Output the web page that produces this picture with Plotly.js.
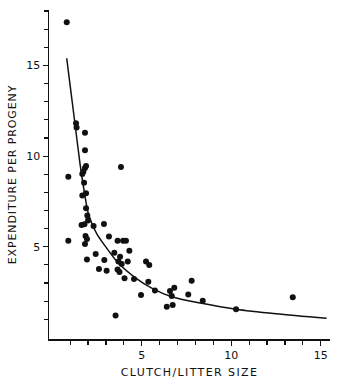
<!DOCTYPE html>
<html>
<head>
<meta charset="utf-8">
<script src="https://cdn.plot.ly/plotly-3.0.1.min.js"></script>
<style>
  html, body { margin: 0; padding: 0; background: #fff; }
  #chart { width: 339px; height: 385px; }
  #chart .xtitle { letter-spacing: 1.4px; }
  #chart .ytitle { letter-spacing: 0.9px; }
</style>
</head>
<body>
<div id="chart"></div>
<script>
// Observed species: clutch/litter size vs. expenditure per progeny
const clutchSize = [
  0.81, 0.90, 0.90, 1.33, 1.36, 1.83, 1.83, 1.89, 1.83, 1.74,
  1.68, 3.84, 1.78, 1.68, 1.89, 1.89, 1.96, 2.00, 1.64, 1.80,
  2.31, 2.89, 1.86, 1.94, 1.83, 3.17, 3.65, 3.96, 4.12, 4.31,
  3.47, 2.43, 3.79, 1.94, 2.91, 4.22, 3.70, 3.88, 2.61, 3.04,
  3.65, 3.76, 4.04, 4.57, 5.24, 5.42, 5.37, 5.74, 4.96, 3.54,
  6.40, 6.73, 6.68, 6.58, 6.82, 7.79, 7.60, 8.41, 10.27, 13.44
];
const expenditure = [
  17.38, 8.86, 5.33, 11.81, 11.58, 11.29, 10.32, 9.45, 9.34, 9.14,
  9.01, 9.40, 8.53, 7.82, 7.95, 7.12, 6.72, 6.45, 6.20, 6.24,
  6.14, 6.25, 5.59, 5.43, 5.15, 5.57, 5.33, 5.33, 5.33, 4.78,
  4.67, 4.60, 4.45, 4.30, 4.27, 4.19, 4.18, 4.05, 3.77, 3.68,
  3.75, 3.61, 3.26, 3.22, 4.18, 3.99, 3.07, 2.58, 2.34, 1.20,
  1.69, 1.79, 2.28, 2.56, 2.74, 3.13, 2.36, 2.02, 1.55, 2.21
];

// Fitted curve
const curveX = [0.81, 1.0, 1.27, 1.55, 1.78, 2.0, 2.21, 2.5, 2.95, 3.69, 4.63, 5.56, 6.68, 8.35, 10.27, 12.5, 15.33];
const curveY = [15.4, 13.9, 11.8, 9.6, 8.1, 6.9, 6.3, 5.7, 5.05, 4.1, 3.3, 2.72, 2.24, 1.88, 1.55, 1.3, 1.05];

// Axis ticks
const xMajorTicks = [5, 10, 15];
const xMajorLabels = ["5", "10", "15"];
const xMinorTicks = [1, 2, 3, 4, 6, 7, 8, 9, 11, 12, 13, 14];
const yMajorTicks = [5, 10, 15];
const yMajorLabels = ["5", "10", "15"];
const yMinorTicks = [1, 2, 3, 4, 6, 7, 8, 9, 11, 12, 13, 14, 16, 17, 18];

const xTitle = "CLUTCH/LITTER SIZE";
const yTitle = "EXPENDITURE PER PROGENY";

const ink = "#111";
const fontFam = "DejaVu Sans, Arial, sans-serif";

const traces = [
  {
    x: curveX, y: curveY, type: "scatter", mode: "lines",
    line: { color: ink, width: 1.5, shape: "spline", smoothing: 0.8 },
    hoverinfo: "skip"
  },
  {
    x: clutchSize, y: expenditure, type: "scatter", mode: "markers",
    marker: { color: ink, size: 6 }
  }
];

const axisCommon = {
  showgrid: false, zeroline: false, showline: true,
  linecolor: ink, linewidth: 1.5, mirror: false,
  ticks: "outside", ticklen: 5, tickwidth: 1.2, tickcolor: ink,
  tickmode: "array",
  tickfont: { family: fontFam, size: 11, color: ink },
  automargin: false
};

const layout = {
  width: 339, height: 385,
  margin: { l: 49, r: 9, t: 10, b: 46 },
  paper_bgcolor: "#fff", plot_bgcolor: "#fff",
  showlegend: false,
  xaxis: Object.assign({}, axisCommon, {
    range: [-0.18, 15.52],
    tickvals: xMajorTicks, ticktext: xMajorLabels,
    minor: { tickmode: "array", tickvals: xMinorTicks, ticks: "outside", ticklen: 4, tickwidth: 1.2, tickcolor: ink, showgrid: false },
    title: { text: xTitle, standoff: 7, font: { family: fontFam, size: 11, color: ink } }
  }),
  yaxis: Object.assign({}, axisCommon, {
    range: [-0.09, 18.06],
    tickvals: yMajorTicks, ticktext: yMajorLabels,
    minor: { tickmode: "array", tickvals: yMinorTicks, ticks: "outside", ticklen: 4, tickwidth: 1.2, tickcolor: ink, showgrid: false },
    title: { text: yTitle, standoff: 7, font: { family: fontFam, size: 11, color: ink } }
  })
};

Plotly.newPlot("chart", traces, layout, { staticPlot: true, displayModeBar: false });
</script>
</body>
</html>
